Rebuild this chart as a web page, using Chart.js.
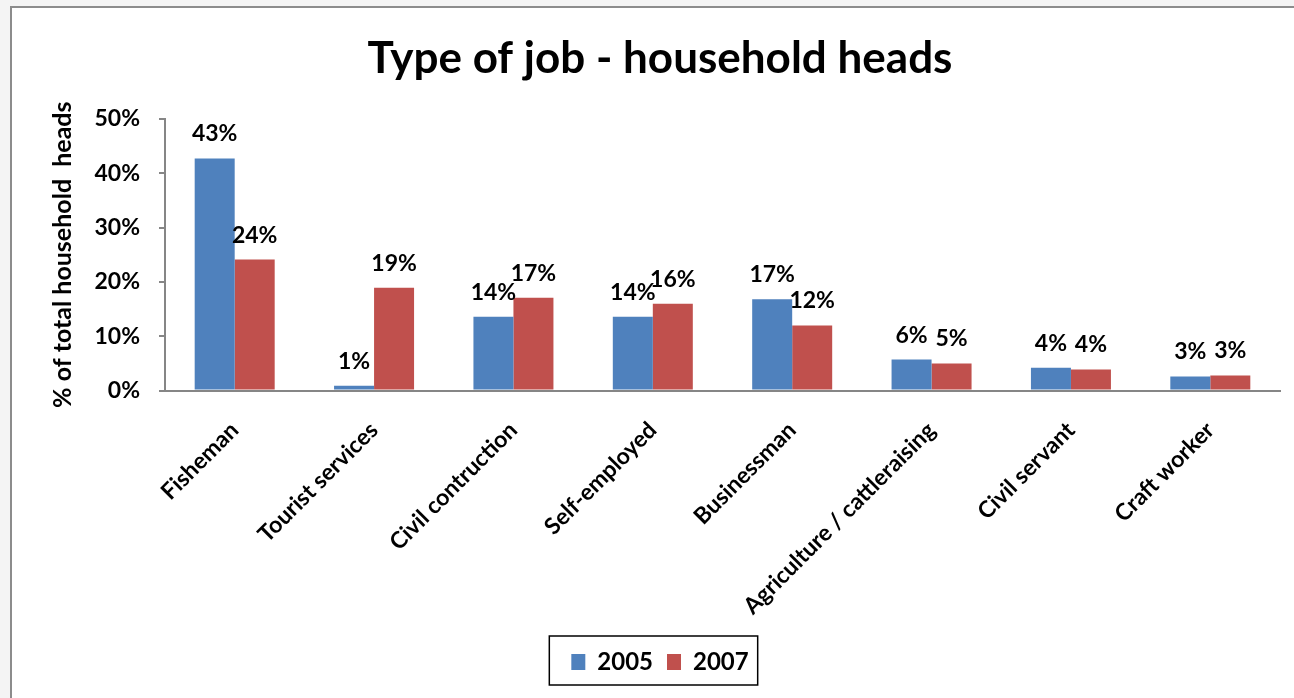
<!DOCTYPE html>
<html>
<head>
<meta charset="utf-8">
<script src="https://cdn.jsdelivr.net/npm/chart.js@4/dist/chart.umd.min.js"></script>
<style>
    html, body { margin: 0; padding: 0; background: #f4f4f4; overflow: hidden; }
    #frame {
        position: absolute; left: 10px; top: 6px;
        width: 1296px; height: 692px;
        background: #fff;
        border-left: 2px solid #8c8c8c;
        border-top: 2px solid #8c8c8c;
    }
</style>
</head>
<body>
<div id="frame"><canvas id="my" width="1296" height="692"></canvas></div>
<script>
var jobs = ["Fisheman", "Tourist services", "Civil contruction", "Self-employed",
    "Businessman", "Agriculture / cattleraising", "Civil servant", "Craft worker"];
var share2005 = [42.7, 0.9, 13.6, 13.6, 16.8, 5.7, 4.2, 2.6];
var share2007 = [24.1, 18.9, 17.1, 16.0, 12.0, 5.0, 3.9, 2.8];
var yTicks = [0, 10, 20, 30, 40, 50];

var font = "Lato";
var axisGray = "#868686";

// percent labels above each bar
var barLabels = {
    id: 'barLabels',
    afterDatasetsDraw: function (chart) {
        var c = chart.ctx;
        c.save();
        c.font = "bold 23px " + font;
        c.fillStyle = "#000";
        c.textAlign = "center";
        c.textBaseline = "alphabetic";
        chart.data.datasets.forEach(function (ds, i) {
            chart.getDatasetMeta(i).data.forEach(function (bar, j) {
                c.fillText(Math.round(ds.data[j]) + "%", bar.x, bar.y - 17);
            });
        });
        c.restore();
    }
};

// black frame around the legend items
var legendFrame = {
    id: 'legendFrame',
    afterDraw: function (chart) {
        var boxes = chart.legend.legendHitBoxes;
        if (!boxes || !boxes.length) return;
        var l = Math.min.apply(null, boxes.map(function (b) { return b.left; }));
        var r = Math.max.apply(null, boxes.map(function (b) { return b.left + b.width; }));
        var t = boxes[0].top, h = boxes[0].height;
        var c = chart.ctx;
        c.save();
        c.strokeStyle = "#000";
        c.lineWidth = 1.5;
        c.strokeRect(l - 22, t - 14, r - l + 31, h + 25);
        c.restore();
    }
};

var ctx = document.getElementById("my").getContext('2d');
var myChart = new Chart(ctx, {
    type: 'bar',
    plugins: [barLabels, legendFrame],
    data: {
        labels: jobs,
        datasets: [{
            label: '2005',
            data: share2005,
            backgroundColor: "#4F81BD"
        }, {
            label: '2007',
            data: share2007,
            backgroundColor: "#C0504D"
        }]
    },
    options: {
        responsive: false,
        animation: false,
        layout: { padding: { left: 28, right: 28, bottom: 16 } },
        datasets: {
            bar: { barPercentage: 1, categoryPercentage: 0.574 }
        },
        plugins: {
            tooltip: { enabled: false },
            title: {
                display: true,
                text: "Type of job - household heads",
                color: "#000",
                font: { family: font, size: 44, weight: 'bold', lineHeight: 1.2 },
                padding: { top: 24, bottom: 34 }
            },
            legend: {
                display: true,
                position: "bottom",
                labels: {
                    color: "#000",
                    boxWidth: 14,
                    boxHeight: 16,
                    padding: 14,
                    font: { family: font, size: 24, weight: 'bold' }
                }
            }
        },
        scales: {
            x: {
                afterFit: function (scale) { scale.height = scale.height - 2; },
                grid: { display: false },
                border: { color: axisGray, width: 2 },
                ticks: {
                    color: "#000",
                    minRotation: 45,
                    maxRotation: 45,
                    padding: 18,
                    font: { family: font, size: 23, weight: 'bold' }
                }
            },
            y: {
                min: 0,
                max: 50,
                afterBuildTicks: function (scale) {
                    scale.ticks = yTicks.map(function (v) { return { value: v }; });
                },
                afterFit: function (scale) { scale.width = 125; },
                grid: { drawOnChartArea: false, drawTicks: true, tickLength: 6, color: axisGray, lineWidth: 2 },
                border: { color: axisGray, width: 2 },
                ticks: {
                    color: "#000",
                    padding: 19,
                    font: { family: font, size: 23, weight: 'bold' },
                    callback: function (v) { return v + "%"; }
                },
                title: {
                    display: true,
                    text: "% of total household  heads",
                    color: "#000",
                    padding: { top: 8, bottom: 0 },
                    font: { family: font, size: 25, weight: 'bold' }
                }
            }
        }
    }
});
</script>
</body>
</html>
